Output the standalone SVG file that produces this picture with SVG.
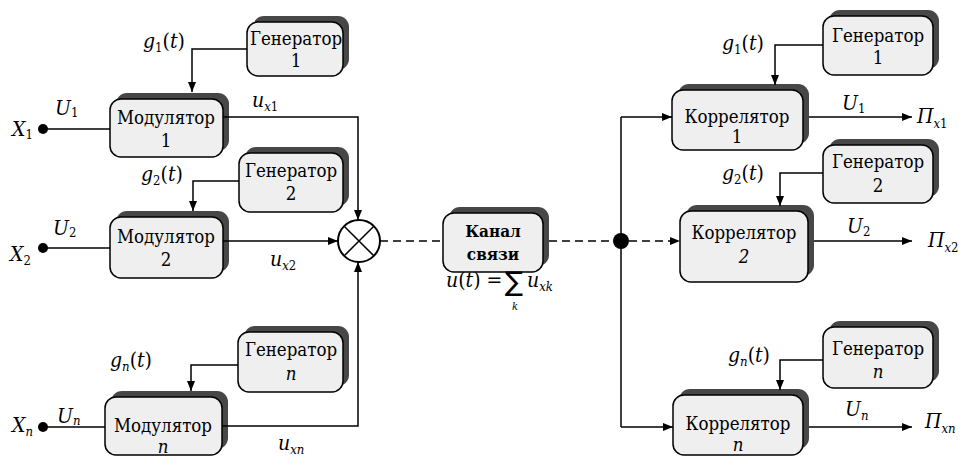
<svg xmlns="http://www.w3.org/2000/svg" width="964" height="458" viewBox="0 0 964 458">
<style>
.box{fill:#efefef;stroke:#000;stroke-width:1.5}
.sh{fill:#474747}
.t{font-family:"DejaVu Serif Condensed","DejaVu Serif",serif;font-stretch:condensed;font-size:18.5px;text-anchor:middle;fill:#000}
.b{font-weight:bold;font-size:17px}
.m{font-family:"DejaVu Serif Condensed","DejaVu Serif",serif;font-stretch:condensed;font-size:21px;font-style:italic;fill:#000}
.s{font-size:13px}
.big{font-family:"DejaVu Sans",sans-serif;font-stretch:normal;font-style:normal;font-size:27px}
.k{font-size:11px}
.up{font-style:normal}
.ln{stroke:#000;stroke-width:1.5;fill:none}
.da{stroke-dasharray:8 5}
</style>
<defs>
<marker id="ar" viewBox="0 0 10 8" refX="10" refY="4" markerWidth="10" markerHeight="8" markerUnits="userSpaceOnUse" orient="auto">
<path d="M0,0 L10,4 L0,8 z" fill="#000"/>
</marker>
</defs>
<rect width="964" height="458" fill="#fff"/>

<g id="gen1L"><rect class="sh" x="253" y="16" width="96" height="54" rx="11"/><rect class="box" x="247" y="22" width="96" height="54" rx="11"/><text class="t" x="296" y="45">Генератор</text><text class="t" x="296" y="67">1</text></g>
<g id="mod1"><rect class="sh" x="116" y="93" width="113" height="58" rx="11"/><rect class="box" x="110" y="99" width="113" height="58" rx="11"/><text class="t" x="166" y="124">Модулятор</text><text class="t" x="166" y="147">1</text></g>
<g id="gen2L"><rect class="sh" x="245" y="147" width="104" height="59" rx="11"/><rect class="box" x="239" y="153" width="104" height="59" rx="11"/><text class="t" x="291" y="177">Генератор</text><text class="t" x="291" y="200">2</text></g>
<g id="mod2"><rect class="sh" x="116" y="211" width="113" height="61" rx="11"/><rect class="box" x="110" y="217" width="113" height="61" rx="11"/><text class="t" x="166" y="243">Модулятор</text><text class="t" x="166" y="266">2</text></g>
<g id="gennL"><rect class="sh" x="244" y="326" width="105" height="60" rx="11"/><rect class="box" x="238" y="332" width="105" height="60" rx="11"/><text class="t" x="291" y="356">Генератор</text><text class="t" x="291" y="380" font-style="italic">n</text></g>
<g id="modn"><rect class="sh" x="111" y="391" width="117" height="58" rx="11"/><rect class="box" x="105" y="397" width="117" height="58" rx="11"/><text class="t" x="163" y="432">Модулятор</text><text class="t" x="163" y="453" font-style="italic">n</text></g>

<g id="channel"><rect class="sh" x="449" y="207" width="100" height="59" rx="11"/><rect class="box" x="443" y="213" width="100" height="59" rx="11"/><text class="t b" x="493" y="237">Канал</text><text class="t b" x="493" y="260">связи</text></g>

<g id="gen1R"><rect class="sh" x="829" y="10" width="110" height="59" rx="11"/><rect class="box" x="823" y="16" width="110" height="59" rx="11"/><text class="t" x="878" y="42">Генератор</text><text class="t" x="878" y="64">1</text></g>
<g id="kor1"><rect class="sh" x="678" y="84" width="131" height="60" rx="11"/><rect class="box" x="672" y="90" width="131" height="60" rx="11"/><text class="t" x="737" y="123">Коррелятор</text><text class="t" x="737" y="143">1</text></g>
<g id="gen2R"><rect class="sh" x="829" y="139" width="110" height="58" rx="11"/><rect class="box" x="823" y="145" width="110" height="58" rx="11"/><text class="t" x="878" y="168">Генератор</text><text class="t" x="878" y="192">2</text></g>
<g id="kor2"><rect class="sh" x="686" y="205" width="128" height="71" rx="11"/><rect class="box" x="680" y="211" width="128" height="71" rx="11"/><text class="t" x="744" y="239">Коррелятор</text><text class="t" x="744" y="263" font-style="italic">2</text></g>
<g id="gennR"><rect class="sh" x="829" y="321" width="110" height="61" rx="11"/><rect class="box" x="823" y="327" width="110" height="61" rx="11"/><text class="t" x="878" y="355">Генератор</text><text class="t" x="878" y="378" font-style="italic">n</text></g>
<g id="korn"><rect class="sh" x="679" y="389" width="130" height="60" rx="11"/><rect class="box" x="673" y="395" width="130" height="60" rx="11"/><text class="t" x="738" y="430">Коррелятор</text><text class="t" x="738" y="451" font-style="italic">n</text></g>

<g id="summer"><circle cx="359" cy="241" r="21" fill="#fff" stroke="#000" stroke-width="2"/><path class="ln" stroke-width="2" d="M344.2,226.2 L373.8,255.8 M373.8,226.2 L344.2,255.8"/></g>

<g id="connectors">
<path class="ln" d="M247,49 H192 V92" marker-end="url(#ar)"/>
<path class="ln" d="M239,181 H193 V211" marker-end="url(#ar)"/>
<path class="ln" d="M238,365 H191 V391" marker-end="url(#ar)"/>
<circle cx="43" cy="129" r="5"/><path class="ln" d="M43,129 H110"/>
<circle cx="43" cy="248" r="5"/><path class="ln" d="M43,248 H110"/>
<circle cx="43" cy="427" r="5"/><path class="ln" d="M43,427 H105"/>
<path class="ln" d="M223,117 H358 V220" marker-end="url(#ar)"/>
<path class="ln" d="M223,241 H338" marker-end="url(#ar)"/>
<path class="ln" d="M222,426 H358 V262" marker-end="url(#ar)"/>
<path class="ln da" d="M380,241 H443"/>
<path class="ln da" d="M549,241 H614"/>
<circle cx="621" cy="241" r="8"/>
<path class="ln" d="M621,117 V427"/>
<path class="ln" d="M621,117 H672" marker-end="url(#ar)"/>
<path class="ln" d="M621,427 H673" marker-end="url(#ar)"/>
<path class="ln da" d="M629,241 H680" marker-end="url(#ar)"/>
<path class="ln" d="M823,45 H775 V85" marker-end="url(#ar)"/>
<path class="ln" d="M823,173 H780 V206" marker-end="url(#ar)"/>
<path class="ln" d="M823,360 H780 V390" marker-end="url(#ar)"/>
<path class="ln" d="M809,117 H912" marker-end="url(#ar)"/>
<path class="ln" d="M814,241 H912" marker-end="url(#ar)"/>
<path class="ln" d="M809,427 H912" marker-end="url(#ar)"/>
</g>

<g id="labels">
<text class="m" x="12" y="136">X<tspan class="s up" dy="3">1</tspan></text>
<text class="m" x="10" y="261">X<tspan class="s up" dy="4">2</tspan></text>
<text class="m" x="12" y="432">X<tspan class="s" dy="4">n</tspan></text>
<text class="m" x="55" y="115">U<tspan class="s up" dy="2">1</tspan></text>
<text class="m" x="53" y="235">U<tspan class="s up" dy="2">2</tspan></text>
<text class="m" x="57" y="423">U<tspan class="s" dy="2">n</tspan></text>
<text class="m" x="143" y="48">g<tspan class="s up" dy="4">1</tspan><tspan class="up" dy="-4">(</tspan>t<tspan class="up">)</tspan></text>
<text class="m" x="141" y="181">g<tspan class="s up" dy="4">2</tspan><tspan class="up" dy="-4">(</tspan>t<tspan class="up">)</tspan></text>
<text class="m" x="110" y="367">g<tspan class="s" dy="4">n</tspan><tspan class="up" dy="-4">(</tspan>t<tspan class="up">)</tspan></text>
<text class="m" x="252" y="107">u<tspan class="s" dy="4">x<tspan class="up">1</tspan></tspan></text>
<text class="m" x="270" y="266">u<tspan class="s" dy="4">x<tspan class="up">2</tspan></tspan></text>
<text class="m" x="278" y="450">u<tspan class="s" dy="4">xn</tspan></text>
<text class="m" x="446" y="287">u<tspan class="up">(</tspan>t<tspan class="up">) =</tspan></text>
<text class="m big" x="505" y="291">∑</text>
<text class="m k" x="512" y="310">k</text>
<text class="m" x="527" y="287">u<tspan class="s" dy="4">xk</tspan></text>
<text class="m" x="722" y="50">g<tspan class="s up" dy="4">1</tspan><tspan class="up" dy="-4">(</tspan>t<tspan class="up">)</tspan></text>
<text class="m" x="722" y="180">g<tspan class="s up" dy="4">2</tspan><tspan class="up" dy="-4">(</tspan>t<tspan class="up">)</tspan></text>
<text class="m" x="728" y="362">g<tspan class="s" dy="4">n</tspan><tspan class="up" dy="-4">(</tspan>t<tspan class="up">)</tspan></text>
<text class="m" x="842" y="110">U<tspan class="s up" dy="3">1</tspan></text>
<text class="m" x="847" y="233">U<tspan class="s up" dy="3">2</tspan></text>
<text class="m" x="845" y="416">U<tspan class="s" dy="4">n</tspan></text>
<text class="m" x="917" y="123">Π<tspan class="s" dy="5">x<tspan class="up">1</tspan></tspan></text>
<text class="m" x="928" y="247">Π<tspan class="s" dy="5">x<tspan class="up">2</tspan></tspan></text>
<text class="m" x="925" y="428">Π<tspan class="s" dy="5">xn</tspan></text>
</g>
</svg>
